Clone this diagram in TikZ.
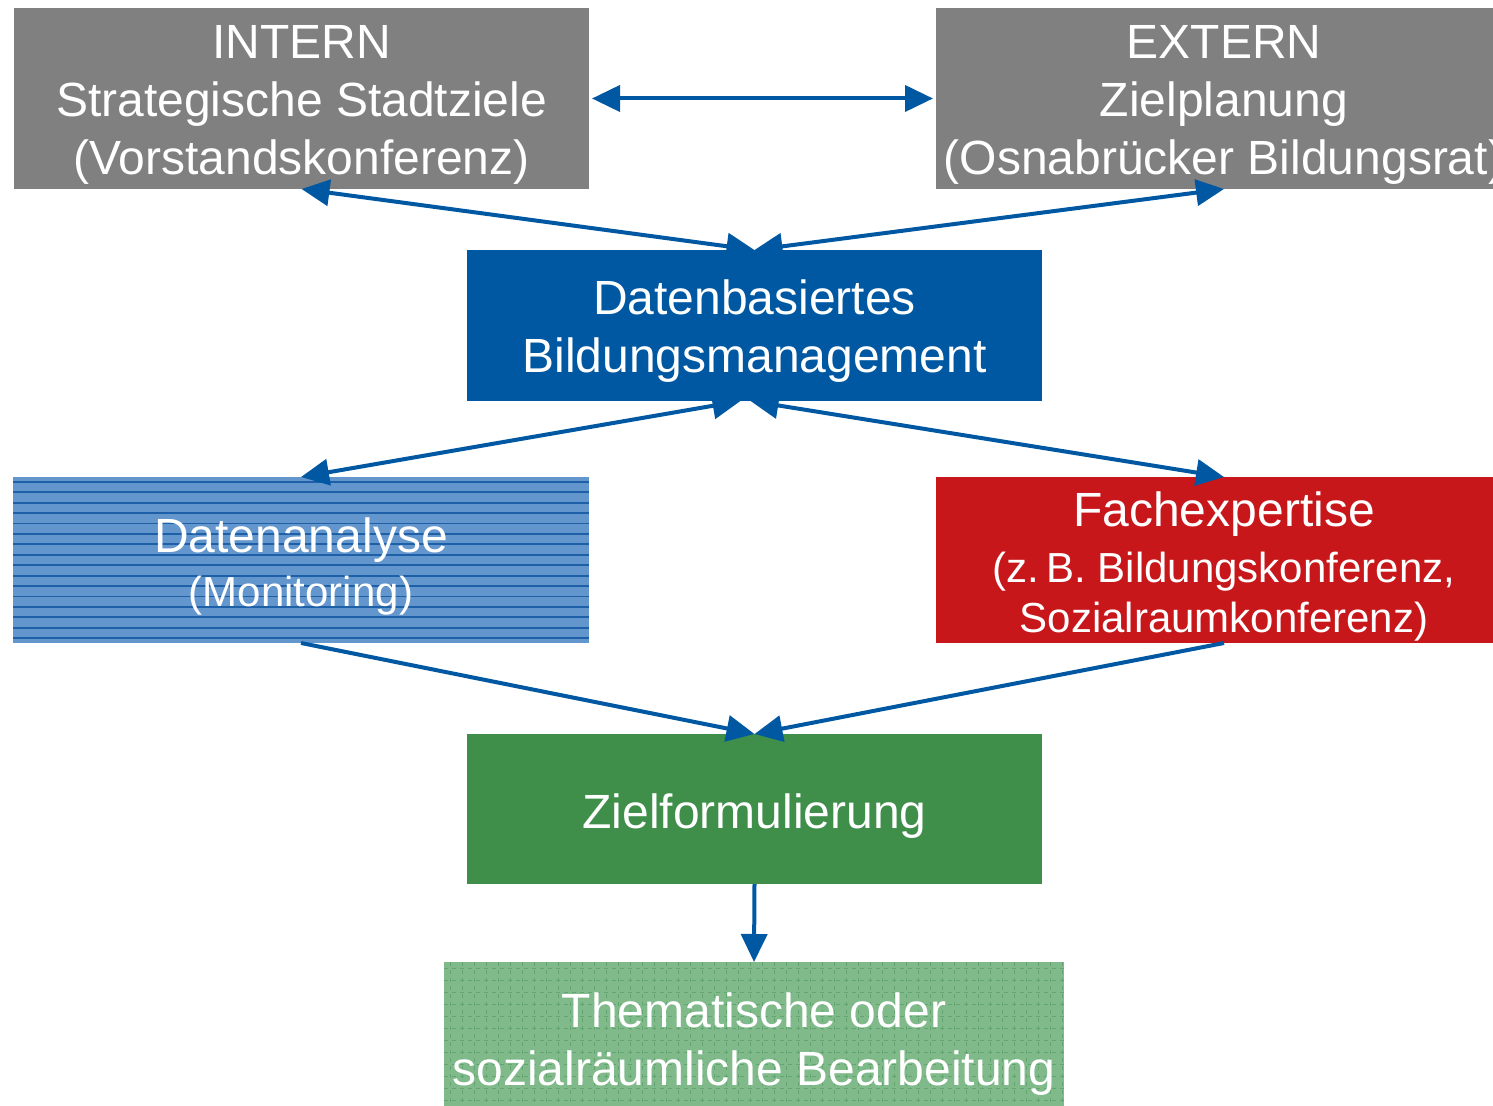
\documentclass[tikz,border=0pt]{standalone}
\usepackage{fontspec}
\setmainfont{Liberation Sans}
\usetikzlibrary{arrows.meta}
\definecolor{boxgray}{RGB}{128,128,128}
\definecolor{dblue}{RGB}{0,88,162}
\definecolor{arrowblue}{RGB}{0,88,162}
\definecolor{lblue}{RGB}{100,150,206}
\definecolor{lbluel}{RGB}{30,96,168}
\definecolor{fred}{RGB}{200,23,27}
\definecolor{zgreen}{RGB}{63,143,75}
\definecolor{lgreen}{RGB}{128,186,138}
\definecolor{lgreenl}{RGB}{98,165,112}
\begin{document}
\begin{tikzpicture}[x=0.5pt,y=-0.5pt,
  box/.style={rectangle, inner sep=0pt, outer sep=0pt},
  txt/.style={inner sep=0pt, text=white, align=center},
  conn/.style={draw=arrowblue, line width=2pt, -{Triangle[length=14pt,width=13pt]}},
  bconn/.style={draw=arrowblue, line width=2pt, {Triangle[length=14pt,width=13pt]}-{Triangle[length=14pt,width=13pt]}},
  big/.style={font=\fontsize{24}{29}\selectfont},
  small/.style={font=\fontsize{21}{27}\selectfont},
]
\useasboundingbox (0,0) rectangle (1493,1106);
\clip (0,0) rectangle (1493,1106);

% top boxes
\node[box, fill=boxgray, minimum width=287.5pt, minimum height=90.5pt] (intern) at (301.5,98.5) {};
\node[txt, big] (intern-t) at ([yshift=-3pt]intern.center)
  {INTERN\\Strategische Stadtziele\\(Vorstandskonferenz)};
\node[box, fill=boxgray, minimum width=288pt, minimum height=90.5pt] (extern) at (1224,98.5) {};
\node[txt, big] (extern-t) at ([yshift=-3pt]extern.center)
  {EXTERN\\Zielplanung\\(Osnabrücker Bildungsrat)};

% middle box
\node[box, fill=dblue, minimum width=287.5pt, minimum height=75.5pt] (dbm) at (754.5,325.5) {};
\node[txt, big] (dbm-t) at ([yshift=-3pt]dbm.center)
  {Datenbasiertes\\Bildungsmanagement};

% Datenanalyse (patterned)
\node[box, fill=lblue, minimum width=288pt, minimum height=83pt] (ana) at (301,560) {};
\foreach \yy in {482,492.4,...,642} {
  \draw[lbluel, line width=0.9pt] (13,\yy) -- (589,\yy);
}
\node[txt, small] (ana-t) at ([yshift=-3.2pt]ana.center)
  {{\fontsize{24}{29}\selectfont Datenanalyse}\\(Monitoring)};

% Fachexpertise
\node[box, fill=fred, minimum width=288pt, minimum height=83pt] (fach) at (1224,560) {};
\node[txt, font=\fontsize{21}{25}\selectfont] (fach-t) at ([yshift=-3pt]fach.center)
  {{\fontsize{24}{29}\selectfont Fachexpertise}\\[3pt](z.\,B. Bildungskonferenz,\\Sozialraumkonferenz)};

% Zielformulierung
\node[box, fill=zgreen, minimum width=287.5pt, minimum height=75pt] (ziel) at (754.5,809) {};
\node[txt, big] (ziel-t) at ([yshift=-3.5pt]ziel.center) {Zielformulierung};

% Thematische (patterned)
\node[box, fill=lgreen, minimum width=310pt, minimum height=72pt] (them) at (754,1034) {};
\foreach \xx in {450,462,...,1062} {
  \draw[lgreenl, line width=0.4pt, dash pattern=on 2pt off 2pt] (\xx,962) -- (\xx,1106);
}
\foreach \yy in {968,980,...,1104} {
  \draw[lgreenl, line width=0.4pt, dash pattern=on 2pt off 2pt] (444,\yy) -- (1064,\yy);
}
\node[txt, big] (them-t) at ([yshift=-5pt]them.center)
  {Thematische oder\\sozialräumliche Bearbeitung};

% connectors
\draw[bconn, shorten <=1.5pt, shorten >=1.5pt] (intern.east) -- (extern.west);
\draw[bconn] (intern.south) -- (dbm.north);
\draw[bconn] (extern.south) -- (dbm.north);
\draw[bconn] (ana.north) -- ([xshift=-7pt]dbm.south);
\draw[bconn] (fach.north) -- ([xshift=-2pt]dbm.south);
\draw[conn] (ana.south) -- (ziel.north);
\draw[conn] (fach.south) -- (ziel.north);
\draw[conn] (ziel.south) -- (them.north);
\end{tikzpicture}
\end{document}
